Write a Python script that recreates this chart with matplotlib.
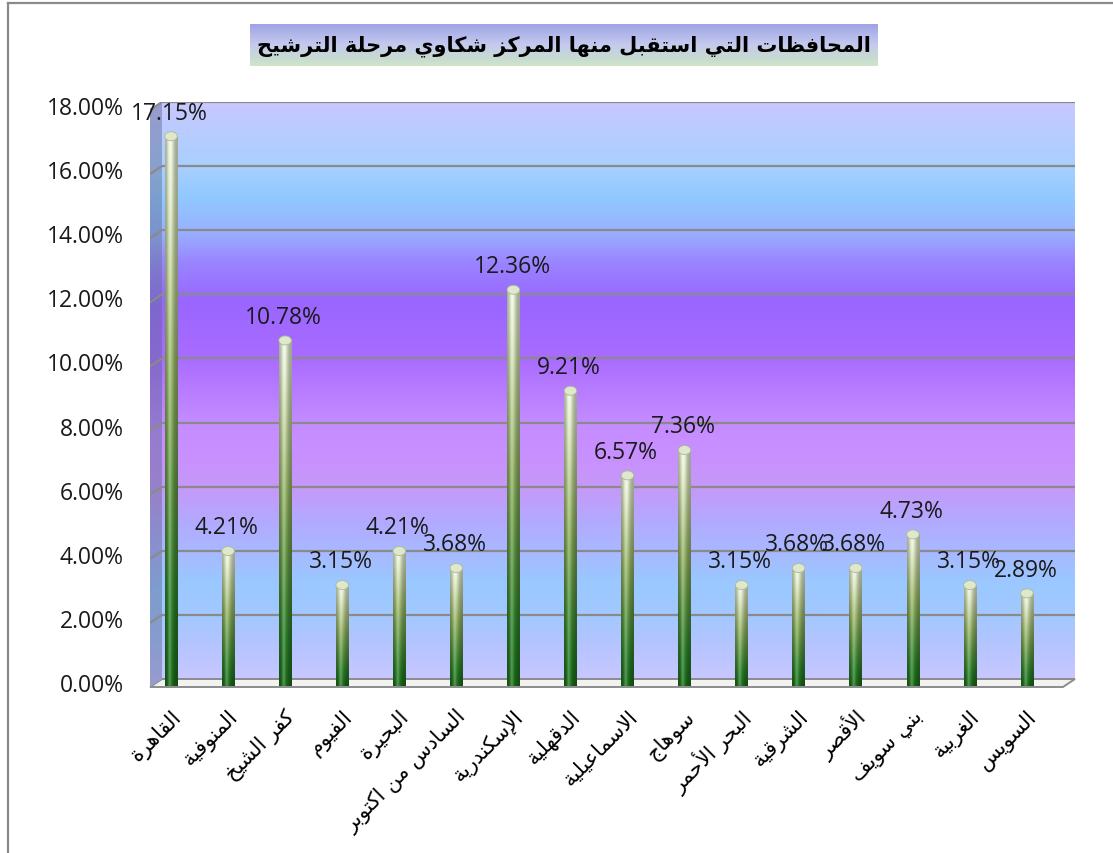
import numpy as np
import matplotlib
matplotlib.use("Agg")
import matplotlib.pyplot as plt
from matplotlib import transforms
from matplotlib.colors import to_rgb
from matplotlib.patches import Polygon, Ellipse
from matplotlib.lines import Line2D

# ---------------- data ----------------
title = "المحافظات التي استقبل منها المركز شكاوي مرحلة الترشيح"
governorates = ["القاهرة", "المنوفية", "كفر الشيخ", "الفيوم", "البحيرة",
                "السادس من اكتوبر", "الإسكندرية", "الدقهلية", "الاسماعيلية",
                "سوهاج", "البحر الأحمر", "الشرقية", "الأقصر", "بني سويف",
                "الغربية", "السويس"]
values = [17.15, 4.21, 10.78, 3.15, 4.21, 3.68, 12.36, 9.21, 6.57,
          7.36, 3.15, 3.68, 3.68, 4.73, 3.15, 2.89]
yticks = [0, 2, 4, 6, 8, 10, 12, 14, 16, 18]

# ---------------- simple Arabic shaping ----------------
DUAL = {'ب': 0xFE8F, 'ت': 0xFE95, 'ث': 0xFE99, 'ج': 0xFE9D, 'ح': 0xFEA1,
        'خ': 0xFEA5, 'س': 0xFEB1, 'ش': 0xFEB5, 'ص': 0xFEB9, 'ض': 0xFEBD,
        'ط': 0xFEC1, 'ظ': 0xFEC5, 'ع': 0xFEC9, 'غ': 0xFECD, 'ف': 0xFED1,
        'ق': 0xFED5, 'ك': 0xFED9, 'ل': 0xFEDD, 'م': 0xFEE1, 'ن': 0xFEE5,
        'ه': 0xFEE9, 'ي': 0xFEF1, 'ئ': 0xFE89}
RIGHT = {'آ': 0xFE81, 'أ': 0xFE83, 'ؤ': 0xFE85, 'إ': 0xFE87, 'ا': 0xFE8D,
         'ة': 0xFE93, 'د': 0xFEA9, 'ذ': 0xFEAB, 'ر': 0xFEAD, 'ز': 0xFEAF,
         'و': 0xFEED, 'ى': 0xFEEF}
LAMALEF = {'آ': 0xFEF5, 'أ': 0xFEF7, 'إ': 0xFEF9, 'ا': 0xFEFB}


def shape_line(s):
    toks = []
    i = 0
    while i < len(s):
        c = s[i]
        if c == 'ل' and i + 1 < len(s) and s[i + 1] in LAMALEF:
            toks.append(('R', LAMALEF[s[i + 1]]))
            i += 2
            continue
        if c in DUAL:
            toks.append(('D', DUAL[c]))
        elif c in RIGHT:
            toks.append(('R', RIGHT[c]))
        elif c == 'ء':
            toks.append(('N', 0xFE80))
        else:
            toks.append(('X', c))
        i += 1
    out = []
    for j, (k, b) in enumerate(toks):
        if k == 'X':
            out.append(b)
            continue
        if k == 'N':
            out.append(chr(b))
            continue
        jp = j > 0 and toks[j - 1][0] == 'D'
        jn = k == 'D' and j + 1 < len(toks) and toks[j + 1][0] in ('D', 'R', 'N')
        if k == 'D':
            code = b + (3 if (jp and jn) else 1 if jp else 2 if jn else 0)
        else:
            code = b + (1 if jp else 0)
        out.append(chr(code))
    return ''.join(out[::-1])


def shape(s):
    return '\n'.join(shape_line(l) for l in s.split('\n'))


# ---------------- figure ----------------
W, H = 1113, 854
fig = plt.figure(figsize=(W / 100, H / 100), dpi=100)
fig.patch.set_facecolor('white')

AX_L, AX_R, AX_T, AX_B = 162, 1075, 103, 680
ax = fig.add_axes([AX_L / W, 1 - AX_B / H, (AX_R - AX_L) / W, (AX_B - AX_T) / H])
ax.set_axis_off()
n = len(values)
x = np.arange(n)
XL = (-0.158, n - 0.158)
YL = (0, 18)


def hex_grad(stops, npts):
    pos = np.array([p for p, _ in stops], float)
    cols = np.array([to_rgb(c) for _, c in stops])
    t = np.linspace(pos[0], pos[-1], npts)
    return np.stack([np.interp(t, pos, cols[:, k]) for k in range(3)], axis=1)


wall_stops = [(0, '#c8c8ff'), (1, '#b6c4ff'), (2, '#a2c8ff'), (3, '#9ac8ff'),
              (4, '#a8b8ff'), (5, '#b4a8ff'), (6, '#c698f8'), (7, '#c890ff'),
              (8, '#c48cff'), (10, '#aa6cff'), (11.8, '#9966ff'), (13, '#9a84ff'),
              (14, '#98b2ff'), (15, '#90c8ff'), (16, '#a8d0ff'), (18, '#c8c8ff')]
wall = hex_grad(wall_stops, 400)
img = wall[::-1][:, None, :].repeat(4, axis=1)
ax.imshow(img, extent=[0, 1, 0, 1], transform=ax.transAxes, aspect='auto',
          zorder=0, interpolation='bilinear')

# gridlines on back wall
grid_c = '#8a8a8a'
for v in yticks[1:]:
    ax.axhline(v, color=grid_c, lw=1.6, zorder=1)

# side wall (separate axes with clip polygon)
DX, DY = 12, 8
side = fig.add_axes([(AX_L - DX) / W, 1 - (AX_B + DY) / H, DX / W, (AX_B + DY - AX_T) / H])
side.set_axis_off()
hs = AX_B + DY - AX_T
dark = np.array(to_rgb('#5c6890'))
simg = (wall * 0.55 + dark * 0.45)[::-1][:, None, :].repeat(4, axis=1)
poly = Polygon([(0, 0), (1, DY / hs), (1, 1), (0, 1 - DY / hs)], closed=True,
               transform=side.transData, facecolor='none', edgecolor='none')
side.add_patch(poly)
im = side.imshow(simg, extent=[0, 1, DY / hs, 1], aspect='auto', interpolation='bilinear')
im2 = side.imshow(simg, extent=[0, 1, 0, 1 - DY / hs], aspect='auto', interpolation='bilinear')
im.set_clip_path(poly)
im2.set_clip_path(poly)
side.set_xlim(0, 1)
side.set_ylim(0, 1)
for v in yticks[1:]:
    yb = DY / hs + (v / 18) * (1 - DY / hs)
    side.plot([1, 0], [yb, yb - DY / hs], color=grid_c, lw=1.6, solid_capstyle='butt')

# floor
dxa = DX / (AX_R - AX_L)
dya = DY / (AX_B - AX_T)
floor = Polygon([(-dxa, -dya), (0, 0), (1, 0), (1 - dxa, -dya)], closed=True,
                transform=ax.transAxes, facecolor='#f2f2f2', edgecolor='#8c8c8c',
                lw=1.4, clip_on=False, zorder=2)
ax.add_patch(floor)
ax.set_xlim(*XL)
ax.set_ylim(*YL)

# front-plane axes for the bars (shifted slightly down like the 3D front)
FSHIFT = 7
fa = fig.add_axes([AX_L / W, 1 - (AX_B + FSHIFT) / H, (AX_R - AX_L) / W, (AX_B - AX_T) / H])
fa.set_axis_off()
fa.patch.set_alpha(0)

bw = 0.22
bars = fa.bar(x, values, width=bw, color='none', edgecolor='none', zorder=3)
bar_stops = [(0, '#1a6b1a'), (0.15, '#2e7d2a'), (0.35, '#5f9444'), (0.55, '#8fae63'),
             (0.75, '#bccc98'), (0.9, '#d9e4c2'), (1.0, '#e6eed8')]
vert = hex_grad(bar_stops, 200)
u = np.linspace(0, 1, 40)
shade = 0.70 + 0.36 * np.exp(-((u - 0.42) / 0.28) ** 2)
hl = 0.24 * np.exp(-((u - 0.36) / 0.12) ** 2)
bimg = vert[:, None, :] * shade[None, :, None]
bimg = bimg + (1 - bimg) * hl[None, :, None]
bimg = np.clip(bimg, 0, 1)
cap_h = 9 / (AX_B - AX_T) * 18
for rect, v in zip(bars, values):
    x0 = rect.get_x()
    bi = fa.imshow(bimg, extent=[x0, x0 + bw, 0, v], origin='lower', aspect='auto',
                   zorder=3, interpolation='bilinear')
    bi.set_clip_path(rect)
    fa.add_patch(Ellipse((x0 + bw / 2, v), bw, cap_h, facecolor='#dfe8cc',
                         edgecolor='#aabb90', lw=0.6, zorder=4))

# value labels
for xi, v in zip(x, values):
    fa.annotate(f"{v:.2f}%", (xi, v), xytext=(-1, 17), textcoords='offset points',
                ha='center', va='center', fontsize=16.5, family='Open Sans',
                color='#1a1a1a', zorder=6, annotation_clip=False)

fa.set_xlim(*XL)
fa.set_ylim(*YL)

# y tick labels (aligned to front edge)
ytr = transforms.blended_transform_factory(ax.transAxes, ax.transData) + \
    transforms.ScaledTranslation(0, -6 / 100, fig.dpi_scale_trans)
for v in yticks:
    ax.text((124 - AX_L) / (AX_R - AX_L), v, f"{v:.2f}%", transform=ytr, ha='right',
            va='center', fontsize=16.5, family='Open Sans', color='#1a1a1a')

# x category labels
xtr = transforms.blended_transform_factory(ax.transData, ax.transAxes) + \
    transforms.ScaledTranslation(7 / 100, -34 / 100, fig.dpi_scale_trans)
for xi, lab in zip(x, governorates):
    ax.text(xi, 0, shape(lab), transform=xtr, rotation=45, rotation_mode='anchor',
            ha='right', va='center', fontsize=15, family='DejaVu Sans', color='black')

# title box
tb = fig.add_axes([250 / W, 1 - 67 / H, 628 / W, 42 / H])
tb.set_axis_off()
tstops = [(0, '#cfe6c8'), (0.15, '#c8dcd0'), (0.5, '#c4caee'), (1, '#9ca2e4')]
timg = hex_grad(tstops, 100)[::-1][:, None, :].repeat(4, axis=1)
tb.imshow(timg, extent=[0, 1, 0, 1], aspect='auto', interpolation='bilinear')
tb.set_xlim(0, 1)
tb.set_ylim(0, 1)
tb.text(0.5, 0.5, shape(title), ha='center', va='center', fontsize=15,
        fontweight='bold', family='DejaVu Sans', color='black')

# figure border (top and left)
fig.add_artist(Line2D([8 / W, 8 / W], [0, 1 - 4 / H], transform=fig.transFigure,
                      color='#8a8a8a', lw=1.6))
fig.add_artist(Line2D([8 / W, 1], [1 - 4 / H, 1 - 4 / H], transform=fig.transFigure,
                      color='#8a8a8a', lw=1.6))

fig.savefig('out.png', dpi=100, facecolor='white')
